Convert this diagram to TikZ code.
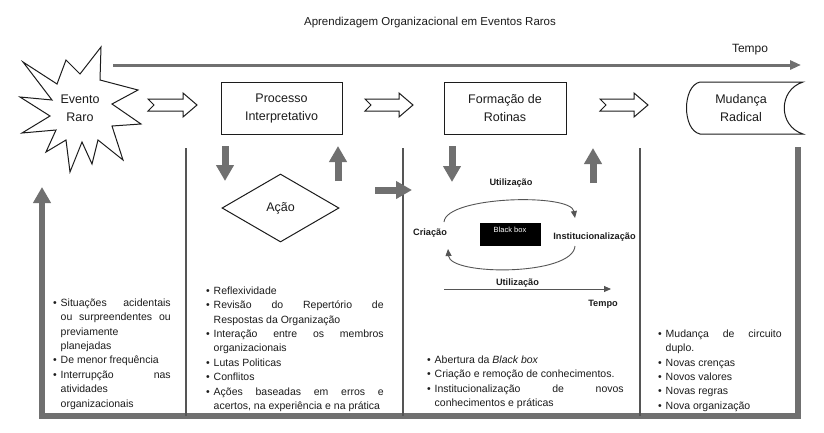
\documentclass[tikz,border=0pt]{standalone}
\usepackage{fontspec}
\setmainfont{Liberation Sans}
\usetikzlibrary{arrows.meta,shapes.geometric}
\definecolor{ink}{HTML}{1C1C1C}
\definecolor{agray}{HTML}{707070}
\definecolor{lgray}{HTML}{555555}
\newcommand\bul{\makebox[7.5pt][l]{\textbullet}}
\newcommand\ind{\hspace*{7.5pt}}
\newcommand\js[2]{\makebox[#1][s]{#2}}
\newcommand\hollowarr[3]{%
  \draw[hollow] (#1,#3-6) -- (#2-14,#3-6) -- (#2-14,#3-12) -- (#2,#3) -- (#2-14,#3+12) -- (#2-14,#3+6) -- (#1,#3+6) -- (#1+6,#3) -- cycle;}
\begin{document}
\begin{tikzpicture}[x=1pt,y=-1pt,
  outline/.style={draw=ink,line width=1pt},
  hollow/.style={draw=ink,line width=1pt,fill=white,line join=miter},
  boxnode/.style={draw=ink,line width=1pt,minimum width=121pt,minimum height=52pt,inner sep=0pt,align=center,
    font=\fontsize{12.5}{18}\selectfont,text=ink},
  bignode/.style={align=center,font=\fontsize{12.5}{18}\selectfont,text=ink,inner sep=0pt},
  blockarr/.style={draw=agray,line width=7pt,-{Triangle[length=16pt,width=17pt]}},
  frame/.style={draw=agray,line width=5.5pt,line join=miter,-{Triangle[length=16pt,width=17pt]}},
  divider/.style={draw=lgray,line width=1.6pt},
  thinarr/.style={draw=lgray,line width=0.9pt,-{Triangle[length=7pt,width=6pt]}},
  boldlbl/.style={font=\fontsize{9.2}{11}\selectfont\bfseries,text=ink,inner sep=0pt},
  listnode/.style={align=left,inner sep=0pt,anchor=north west,font=\fontsize{10.5}{14.4}\selectfont,text=ink}
]
\useasboundingbox (0,0) rectangle (824,432);
\fill[white] (0,0) rectangle (824,432);

% title and time axis
\node[font=\fontsize{11.5}{14}\selectfont,text=ink,inner sep=0pt] (title) at (430,23) {Aprendizagem Organizacional em Eventos Raros};
\node[font=\fontsize{12}{14}\selectfont,text=ink,inner sep=0pt] (tempo) at (750,50) {Tempo};
\coordinate (t0) at (113,65);
\coordinate (t1) at (801,65);
\draw[agray,line width=3pt,-{Triangle[length=11pt,width=9pt]}] (t0) -- (t1);

% star
\draw[outline,fill=white,line join=miter] (20,97) -- (52,100) -- (23,62) -- (57,84) -- (66,60) -- (80,74) -- (101,47) -- (100,80)
  -- (138,90) -- (112,104) -- (141,124) -- (112,126) -- (123,160) -- (98,140) -- (92,164) -- (82,142) -- (70,172)
  -- (66,140) -- (46,152) -- (56,130) -- (22,133) -- (50,116) -- cycle;
\node[bignode] (evento) at (80,108) {Evento\\Raro};

% boxes
\node[boxnode] (proc) at (281.5,108) {Processo\\Interpretativo};
\node[boxnode,minimum width=122pt] (form) at (505,108) {Formação de\\Rotinas};
\draw[outline] (700,82) -- (803,82) .. controls (778,90) and (778,126) .. (803,134) -- (700,134)
  .. controls (682,130) and (682,86) .. (700,82);
\node[bignode] (mud) at (741,108) {Mudança\\Radical};

% hollow arrows
\hollowarr{148}{197}{105}
\hollowarr{365}{413}{105}
\hollowarr{600}{648}{105}

% frame with feedback arrow
\coordinate (f0) at (798,147);
\coordinate (f1) at (798,416);
\coordinate (f2) at (42,416);
\coordinate (f3) at (42,187);
\draw[frame] (f0) -- (f1) -- (f2) -- (f3);

% dividers
\draw[divider] (186,148) -- (186,416);
\draw[divider] (403,148) -- (403,416);
\draw[divider] (640,148) -- (640,416);

% block arrows
\draw[blockarr] (225,146) -- (225,181);
\draw[blockarr] (338,181) -- (338,146);
\draw[blockarr] (375,190) -- (412,190);
\draw[blockarr] (452,146) -- (452,182);
\draw[blockarr] (593,183) -- (593,148);

% action diamond
\node[diamond,draw=ink,line width=1pt,minimum width=117pt,minimum height=68pt,inner sep=0pt,
  font=\fontsize{12.5}{14}\selectfont,text=ink] (acao) at (280.5,208) {Ação};

% routine cycle
\node[boldlbl] (util1) at (511,183) {Utilização};
\node[boldlbl] (cria) at (430,233) {Criação};
\node[fill=black,minimum width=61pt,minimum height=23pt,inner sep=0pt] (bb) at (510,234.5) {};
\node[font=\fontsize{7.5}{9}\selectfont,text=white,inner sep=0pt] (bbt) at (510,230) {Black box};
\node[boldlbl] (inst) at (594.5,237) {Institucionalização};
\draw[thinarr] (444,222) .. controls (446,196) and (571,193) .. (575,218);
\draw[thinarr] (575,246) .. controls (573,276) and (450,276) .. (448,249);
\node[boldlbl] (util2) at (517.5,283) {Utilização};
\coordinate (u0) at (444,289);
\coordinate (u1) at (611,289);
\draw[thinarr] (u0) -- (u1);
\node[boldlbl] (tempo2) at (603,304) {Tempo};

% lists
\node[listnode] (l1) at (53,298.5) {%
\bul\js{110pt}{Situações acidentais}\\
\ind\js{110pt}{ou surpreendentes ou}\\
\ind previamente\\
\ind planejadas\\
\bul De menor frequência\\
\bul\js{110pt}{Interrupção nas}\\
\ind atividades\\
\ind organizacionais};

\node[listnode] (l2) at (206,286.5) {%
\bul Reflexividade\\
\bul\js{170pt}{Revisão do Repertório de}\\
\ind Respostas da Organização\\
\bul\js{170pt}{Interação entre os membros}\\
\ind organizacionais\\
\bul Lutas Politicas\\
\bul Conflitos\\
\bul\js{170pt}{Ações baseadas em erros e}\\
\ind acertos, na experiência e na prática};

\node[listnode] (l3) at (427,355.5) {%
\bul Abertura da \textit{Black box}\\
\bul Criação e remoção de conhecimentos.\\
\bul\js{189pt}{Institucionalização de novos}\\
\ind conhecimentos e práticas};

\node[listnode] (l4) at (658,329.5) {%
\bul\js{116pt}{Mudança de circuito}\\
\ind duplo.\\
\bul Novas crenças\\
\bul Novos valores\\
\bul Novas regras\\
\bul Nova organização};
\end{tikzpicture}
\end{document}
